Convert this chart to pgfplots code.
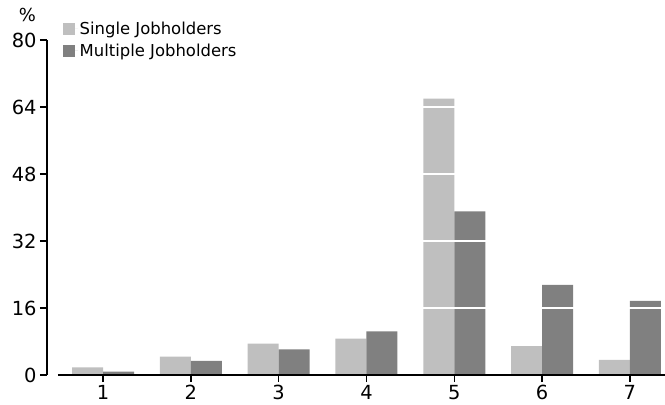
\documentclass[border=0pt]{standalone}
\usepackage{pgfplots}
\pgfplotsset{compat=1.18}
\usepackage{fontspec}
\setmainfont{DejaVu Sans}
\definecolor{sj}{RGB}{191,191,191}
\definecolor{mj}{RGB}{128,128,128}
\begin{document}
\begin{tikzpicture}
\begin{axis}[name=ax, scale only axis, width=618bp, height=335bp,
 xmin=0.362, xmax=7.4, ymin=0, ymax=80,
 ybar=0pt, bar width=31bp,
 axis x line=bottom, axis y line=left,
 axis line style={-, line width=1.5bp, black},
 x axis line style={shorten <=11bp},
 xtick={1,...,7}, ytick={0,16,32,48,64,80},
 tick align=outside, major tick length=7bp,
 tick style={line width=1.5bp, black},
 ymajorgrids, major grid style={white, line width=1.5bp},
 axis on top,
 /pgf/number format/assume math mode=true,
 ticklabel style={font=\fontsize{19.5}{22}\selectfont},
 xticklabel style={yshift=-2bp, inner sep=1bp},
 legend style={draw=none, fill=none, at={(0,1)}, anchor=north west,
   xshift=16bp, yshift=20bp, font=\fontsize{16.5}{19}\selectfont,
   inner sep=0pt, nodes={inner sep=1.5bp}, row sep=5bp},
 legend cell align=left,
 legend image code/.code={\fill[#1] (0bp,-6bp) rectangle (12bp,6bp); \path (0bp,0bp) -- (15bp,0bp);},
]
\addplot[fill=sj, draw=none] coordinates {(1,1.8) (2,4.4) (3,7.5) (4,8.7) (5,66) (6,6.9) (7,3.6)};
\addplot[fill=mj, draw=none] coordinates {(1,0.8) (2,3.4) (3,6.1) (4,10.4) (5,39.1) (6,21.5) (7,17.7)};
\legend{Single Jobholders, Multiple Jobholders}
\end{axis}
\node[font=\fontsize{18}{20}\selectfont] at ([xshift=-19.5bp,yshift=25.5bp]ax.north west) {\%};
\pgfresetboundingbox
\path ([xshift=-47bp,yshift=-30bp]ax.south west) rectangle ([yshift=40bp]ax.north east);
\end{tikzpicture}
\end{document}
